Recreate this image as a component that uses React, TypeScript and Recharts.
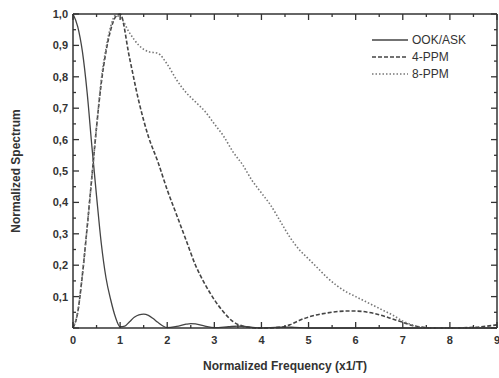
import React from "react";
import { LineChart, Line, XAxis, YAxis } from "recharts";

// frequency grid (x1/T) and spectra
const ookFreq = [0, 0.1, 0.2, 0.3, 0.4, 0.5, 0.6, 0.7, 0.8, 0.9, 1.0, 1.1, 1.2, 1.3, 1.4, 1.5, 1.6, 1.7, 1.8, 1.9, 2.0, 2.2, 2.4, 2.5, 2.6, 2.8, 3.0, 3.3, 3.5, 3.7, 4.0, 4.3, 4.5, 4.7, 5.0, 6.0, 7.0, 8.0, 9.0];
const ookValues = [1.0, 0.96, 0.88, 0.75, 0.58, 0.42, 0.27, 0.16, 0.09, 0.035, 0.004, 0.006, 0.02, 0.034, 0.042, 0.044, 0.04, 0.03, 0.018, 0.007, 0.001, 0.005, 0.012, 0.014, 0.013, 0.006, 0.001, 0.004, 0.006, 0.004, 0.0, 0.002, 0.003, 0.002, 0.0, 0.0, 0.0, 0.0, 0.0];

const ppm4Freq = [0, 0.1, 0.2, 0.3, 0.4, 0.5, 0.6, 0.7, 0.8, 0.9, 1.0, 1.2, 1.4, 1.6, 1.8, 2.0, 2.2, 2.4, 2.6, 2.8, 3.0, 3.2, 3.4, 3.6, 3.8, 4.0, 4.4, 4.6, 4.8, 5.0, 5.4, 5.8, 6.0, 6.4, 6.8, 7.0, 7.2, 7.4, 7.6, 8.0, 8.5, 9.0];
const ppm4Values = [0.0, 0.05, 0.17, 0.32, 0.48, 0.64, 0.78, 0.88, 0.95, 0.99, 1.0, 0.86, 0.72, 0.61, 0.53, 0.44, 0.36, 0.28, 0.2, 0.14, 0.09, 0.05, 0.02, 0.006, 0.001, 0.0, 0.002, 0.01, 0.024, 0.035, 0.048, 0.054, 0.054, 0.046, 0.028, 0.018, 0.008, 0.003, 0.0, 0.0, 0.002, 0.01];

const ppm8Freq = [0, 0.1, 0.2, 0.3, 0.4, 0.5, 0.6, 0.7, 0.8, 0.9, 1.0, 1.2, 1.4, 1.6, 1.8, 2.0, 2.2, 2.4, 2.6, 2.8, 3.0, 3.2, 3.4, 3.6, 3.8, 4.0, 4.2, 4.4, 4.6, 4.8, 5.0, 5.2, 5.4, 5.6, 5.8, 6.0, 6.2, 6.4, 6.6, 6.8, 7.0, 7.2, 7.4, 7.6, 8.0, 9.0];
const ppm8Values = [0.0, 0.05, 0.17, 0.32, 0.48, 0.64, 0.79, 0.89, 0.96, 0.995, 0.99, 0.94, 0.9, 0.88, 0.875, 0.84, 0.79, 0.75, 0.72, 0.69, 0.65, 0.61, 0.56, 0.52, 0.47, 0.43, 0.39, 0.34, 0.29, 0.25, 0.22, 0.19, 0.16, 0.135, 0.115, 0.1, 0.085, 0.07, 0.055, 0.04, 0.022, 0.01, 0.002, 0.0, 0.0, 0.0];

const xTicks = [0, 0.5, 1, 1.5, 2, 2.5, 3, 3.5, 4, 4.5, 5, 5.5, 6, 6.5, 7, 7.5, 8, 8.5, 9];
const yTicks = [0, 0.05, 0.1, 0.15, 0.2, 0.25, 0.3, 0.35, 0.4, 0.45, 0.5, 0.55, 0.6, 0.65, 0.7, 0.75, 0.8, 0.85, 0.9, 0.95, 1.0];

const ookData = ookFreq.map((f, i) => ({ f, v: ookValues[i] }));
const ppm4Data = ppm4Freq.map((f, i) => ({ f, v: ppm4Values[i] }));
const ppm8Data = ppm8Freq.map((f, i) => ({ f, v: ppm8Values[i] }));

const FONT = "'Liberation Sans', Arial, sans-serif";
const AXIS = "#333";

const isMajorX = (v: number) => Number.isInteger(v);
const isMajorY = (v: number) => Math.round(v * 100) % 10 === 0;

// ticks point into the plot, so they are drawn by hand
const BottomTick = (props: any) => {
  const { x, y, payload } = props;
  const major = isMajorX(payload.value);
  return (
    <g>
      <line x1={x} x2={x} y1={y} y2={y - (major ? 6 : 3)} stroke={AXIS} strokeWidth={1.3} />
      {major && (
        <text x={x} y={y + 16} textAnchor="middle" fill="#333" fontSize={11} fontWeight="bold" fontFamily={FONT}>
          {payload.value}
        </text>
      )}
    </g>
  );
};

const TopTick = (props: any) => {
  const { x, y, payload } = props;
  const major = isMajorX(payload.value);
  return <line x1={x} x2={x} y1={y} y2={y + (major ? 6 : 3)} stroke={AXIS} strokeWidth={1.3} />;
};

const LeftTick = (props: any) => {
  const { x, y, payload } = props;
  const major = isMajorY(payload.value);
  return (
    <g>
      <line x1={x} x2={x + (major ? 6 : 3)} y1={y} y2={y} stroke={AXIS} strokeWidth={1.3} />
      {major && payload.value > 0 && (
        <text x={x - 5} y={y + 4} textAnchor="end" fill="#333" fontSize={11} fontWeight="bold" fontFamily={FONT}>
          {payload.value.toFixed(1).replace(".", ",")}
        </text>
      )}
    </g>
  );
};

const RightTick = (props: any) => {
  const { x, y, payload } = props;
  const major = isMajorY(payload.value);
  return <line x1={x} x2={x - (major ? 6 : 3)} y1={y} y2={y} stroke={AXIS} strokeWidth={1.3} />;
};

const legendItems = [
  { label: "OOK/ASK", dash: undefined, color: "#444" },
  { label: "4-PPM", dash: "4 2", color: "#444" },
  { label: "8-PPM", dash: "1.5 2", color: "#777" },
];

const LegendBox = () => (
  <div style={{ position: "absolute", top: 31, left: 372, fontFamily: FONT, fontSize: 12, color: "#333" }}>
    {legendItems.map((it) => (
      <div key={it.label} style={{ display: "flex", alignItems: "center", height: 17 }}>
        <svg width={37} height={10}>
          <line x1={0} x2={36} y1={5} y2={5} stroke={it.color} strokeWidth={1.3} strokeDasharray={it.dash} />
        </svg>
        <span style={{ marginLeft: 3 }}>{it.label}</span>
      </div>
    ))}
  </div>
);

export default function App() {
  return (
    <div style={{ position: "absolute", left: 0, top: 0, width: 499, height: 378, background: "#fff" }}>
      <LineChart width={499} height={378} margin={{ top: 13, right: 1, bottom: 0, left: 0 }}>
        <XAxis
          xAxisId="bottom"
          type="number"
          dataKey="f"
          domain={[0, 9]}
          ticks={xTicks}
          interval={0}
          tick={<BottomTick />}
          tickLine={false}
          tickSize={0}
          tickMargin={0}
          height={50}
          stroke={AXIS}
          strokeWidth={1.5}
          allowDuplicatedCategory={false}
          label={{
            value: "Normalized Frequency (x1/T)",
            position: "insideBottom",
            offset: 8,
            fill: "#333",
            fontSize: 12,
            fontWeight: "bold",
            fontFamily: FONT,
          }}
        />
        <XAxis
          xAxisId="top"
          orientation="top"
          type="number"
          dataKey="f"
          domain={[0, 9]}
          ticks={xTicks}
          interval={0}
          tick={<TopTick />}
          tickLine={false}
          tickSize={0}
          tickMargin={0}
          height={1}
          stroke={AXIS}
          strokeWidth={1.5}
          allowDuplicatedCategory={false}
        />
        <YAxis
          yAxisId="left"
          type="number"
          domain={[0, 1]}
          ticks={yTicks}
          interval={0}
          tick={<LeftTick />}
          tickLine={false}
          tickSize={0}
          tickMargin={0}
          width={73}
          stroke={AXIS}
          strokeWidth={1.5}
          label={{
            value: "Normalized Spectrum",
            angle: -90,
            position: "insideLeft",
            offset: 16,
            style: { textAnchor: "middle" },
            fill: "#333",
            fontSize: 12,
            fontWeight: "bold",
            fontFamily: FONT,
          }}
        />
        <YAxis
          yAxisId="right"
          orientation="right"
          type="number"
          domain={[0, 1]}
          ticks={yTicks}
          interval={0}
          tick={<RightTick />}
          tickLine={false}
          tickSize={0}
          tickMargin={0}
          width={1}
          stroke={AXIS}
          strokeWidth={1.5}
        />
        {/* invisible series so the top/right frame axes get a scale */}
        <Line
          xAxisId="top"
          yAxisId="right"
          data={ookData}
          dataKey="v"
          stroke="none"
          dot={false}
          activeDot={false}
          isAnimationActive={false}
        />
        <Line
          xAxisId="bottom"
          yAxisId="left"
          data={ookData}
          dataKey="v"
          name="OOK/ASK"
          type="monotone"
          stroke="#444"
          strokeWidth={1.3}
          dot={false}
          isAnimationActive={false}
        />
        <Line
          xAxisId="bottom"
          yAxisId="left"
          data={ppm4Data}
          dataKey="v"
          name="4-PPM"
          type="monotone"
          stroke="#444"
          strokeWidth={1.6}
          strokeDasharray="4 2"
          dot={false}
          isAnimationActive={false}
        />
        <Line
          xAxisId="bottom"
          yAxisId="left"
          data={ppm8Data}
          dataKey="v"
          name="8-PPM"
          type="monotone"
          stroke="#777"
          strokeWidth={1.6}
          strokeDasharray="1.5 2"
          dot={false}
          isAnimationActive={false}
        />
      </LineChart>
      <LegendBox />
    </div>
  );
}
